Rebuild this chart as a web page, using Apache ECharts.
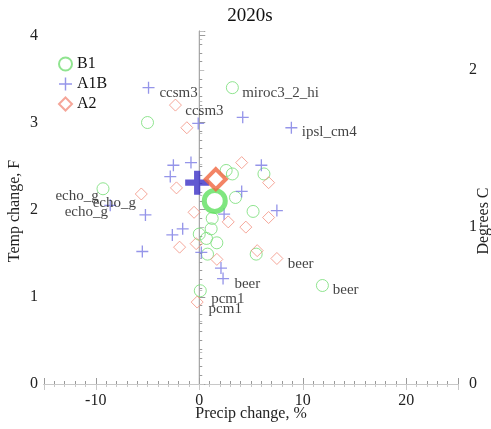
<!DOCTYPE html>
<html>
<head>
<meta charset="utf-8">
<script src="https://cdn.jsdelivr.net/npm/echarts@6/dist/echarts.min.js"></script>
<style>html,body{margin:0;padding:0;background:#fff}#c{width:491px;height:429px}</style>
</head>
<body>
<div id="c"></div>
<script>
// ---- data (precip change %, temp change F) ----
const b1Points = [[-5.0,3.00],[3.2,3.40],[-9.3,2.24],[2.6,2.45],[3.2,2.41],[6.25,2.41],[3.5,2.14],[5.2,1.98],[1.25,1.90],[1.15,1.78],[0.0,1.72],[0.7,1.67],[1.7,1.62],[0.8,1.49],[5.5,1.49],[0.1,1.07],[11.9,1.13]];
const a1bPoints = [[-4.9,3.40],[-0.1,2.99],[4.2,3.06],[8.9,2.94],[-2.5,2.51],[-0.8,2.54],[-2.8,2.38],[6.0,2.51],[4.1,2.21],[-5.2,1.94],[7.5,1.99],[2.4,1.95],[-1.6,1.78],[-2.6,1.71],[-5.5,1.52],[0.2,1.51],[2.1,1.33],[2.3,1.21],[-8.6,2.05]];
const a2Points = [[-2.3,3.20],[-1.2,2.94],[4.1,2.54],[6.7,2.31],[-2.2,2.25],[-5.6,2.18],[-0.5,1.97],[6.7,1.91],[2.8,1.86],[4.5,1.80],[-1.9,1.57],[-0.3,1.61],[5.6,1.53],[1.7,1.43],[7.5,1.44],[-0.2,0.94]];
const b1Mean = [[1.5,2.10]];
const a1bMean = [[-0.2,2.31]];
const a2Mean = [[1.6,2.35]];
const modelLabels = ['ccsm3','ccsm3','miroc3_2_hi','ipsl_cm4','echo_g','echo_g','echo_g','beer','beer','beer','pcm1','pcm1'];
const modelLabelX = [-3.85,-1.35,4.15,9.9,-13.9,-10.3,-13.0,3.4,8.55,12.9,1.15,0.9];
const modelLabelY = [3.34,3.13,3.34,2.89,2.16,2.08,1.97,1.15,1.38,1.08,0.98,0.86];
const xTickLabels = [-10,0,10,20];
const yTickLabelsF = [0,1,2,3,4];
const yTickLabelsC = [0,1,2];
const zeroLine = [[0,0],[0,4.05]];

const serif = 'Liberation Serif';
const plusPath = 'path://M4.45,0H5.55V4.45H10V5.55H5.55V10H4.45V5.55H0V4.45H4.45Z';
const bigPlusPath = 'path://M3.7,0H6.3V3.7H10V6.3H6.3V10H3.7V6.3H0V3.7H3.7Z';
const axisGray = '#9a9a9a';
const lbl = {color:'#222', fontFamily:serif, fontSize:16};

const chart = echarts.init(document.getElementById('c'), null, {renderer:'canvas'});
chart.setOption({
  animation:false,
  backgroundColor:'#fff',
  title:{text:'2020s', left:245, textAlign:'center', top:2,
    textStyle:{fontFamily:serif, fontSize:19, fontWeight:'normal', color:'#111'}},
  legend:{data:['B1','A1B','A2'], orient:'vertical', left:58, top:56, padding:0, itemWidth:13, itemHeight:13, itemGap:4,
    textStyle:{fontFamily:serif, fontSize:16, color:'#111'}},
  grid:{left:44, right:33, top:31, bottom:45, containLabel:false, outerBoundsMode:'none'},
  graphic:[
    {type:'text', x:15, y:211, rotation:Math.PI/2,
     style:{text:'Temp change, F', fontFamily:serif, fontSize:16, fill:'#222', align:'center', verticalAlign:'middle'}},
    {type:'text', x:484, y:221, rotation:Math.PI/2,
     style:{text:'Degrees C', fontFamily:serif, fontSize:16, fill:'#222', align:'center', verticalAlign:'middle'}},
    {type:'text', x:251, y:414,
     style:{text:'Precip change, %', fontFamily:serif, fontSize:16, fill:'#222', align:'center', verticalAlign:'middle'}}
  ],
  xAxis:[
    {type:'value', min:-15, max:25, splitNumber:4, position:'bottom',
     axisLine:{lineStyle:{color:axisGray}},
     axisTick:{inside:true, length:6, lineStyle:{color:axisGray}},
     minorTick:{show:true, splitNumber:10, length:3, lineStyle:{color:axisGray}},
     splitLine:{show:false},
     axisLabel:Object.assign({margin:9, showMinLabel:true, showMaxLabel:true,
       formatter:v => xTickLabels.includes(Math.round(v*1000)/1000) ? String(v) : ''}, lbl)},
    {type:'value', min:-15, max:25, splitNumber:4, position:'top',
     axisLine:{lineStyle:{color:'#c8c8c8'}},
     axisTick:{inside:true, length:6, lineStyle:{color:'#c8c8c8'}},
     minorTick:{show:true, splitNumber:10, length:3, lineStyle:{color:'#c8c8c8'}},
     splitLine:{show:false}, axisLabel:{show:false}}
  ],
  yAxis:[
    {type:'value', min:0, max:4.05, interval:1, position:'left',
     axisLine:{show:true, lineStyle:{color:axisGray}},
     axisTick:{inside:true, length:6, lineStyle:{color:axisGray}},
     minorTick:{show:true, splitNumber:10, length:3, lineStyle:{color:axisGray}},
     splitLine:{show:false},
     axisLabel:Object.assign({margin:6,
       formatter:v => yTickLabelsF.includes(Math.round(v*1000)/1000) ? String(v) : ''}, lbl)},
    {type:'value', min:0, max:2.25, interval:1, position:'right',
     axisLine:{show:true, lineStyle:{color:'#c0c0c0'}},
     axisTick:{inside:false, length:5, lineStyle:{color:'#c0c0c0'}},
     minorTick:{show:true, splitNumber:5, length:3, lineStyle:{color:'#c0c0c0'}},
     splitLine:{show:false},
     axisLabel:Object.assign({margin:11,
       formatter:v => yTickLabelsC.includes(Math.round(v*1000)/1000) ? String(v) : ''}, lbl)}
  ],
  series:[
    {type:'line', name:'zero', data:zeroLine, symbol:'none', silent:true, z:1,
     lineStyle:{color:'#a0a0a0', width:1}},
    {type:'scatter', name:'B1', data:b1Points, symbol:'circle', symbolSize:12, z:3,
     itemStyle:{color:'rgba(0,0,0,0)', borderColor:'#74dd74', borderWidth:1}},
    {type:'scatter', name:'A1B', data:a1bPoints, symbol:plusPath, symbolSize:12, z:3,
     itemStyle:{color:'#7a7ae4'}},
    {type:'scatter', name:'A2', data:a2Points, symbol:'diamond', symbolSize:12, z:3,
     itemStyle:{color:'rgba(0,0,0,0)', borderColor:'#f29080', borderWidth:1}},
    {type:'scatter', name:'B1 mean', data:b1Mean, symbol:'circle', symbolSize:21, z:4,
     itemStyle:{color:'rgba(0,0,0,0)', borderColor:'#5fe05f', borderWidth:5}},
    {type:'scatter', name:'A1B mean', data:a1bMean, symbol:bigPlusPath, symbolSize:24, z:4,
     itemStyle:{color:'#3b30c6'}},
    {type:'scatter', name:'A2 mean', data:a2Mean, symbol:'diamond', symbolSize:20, z:4,
     itemStyle:{color:'#ffffff', borderColor:'#f0653f', borderWidth:4}},
    {type:'scatter', name:'labels', z:5, symbolSize:0, silent:true,
     data:modelLabels.map((n,i) => ({name:n, value:[modelLabelX[i], modelLabelY[i]]})),
     label:{show:true, position:'right', distance:0, formatter:p => p.name,
       fontFamily:serif, fontSize:15, color:'#111'}}
  ]
});
</script>
</body>
</html>
